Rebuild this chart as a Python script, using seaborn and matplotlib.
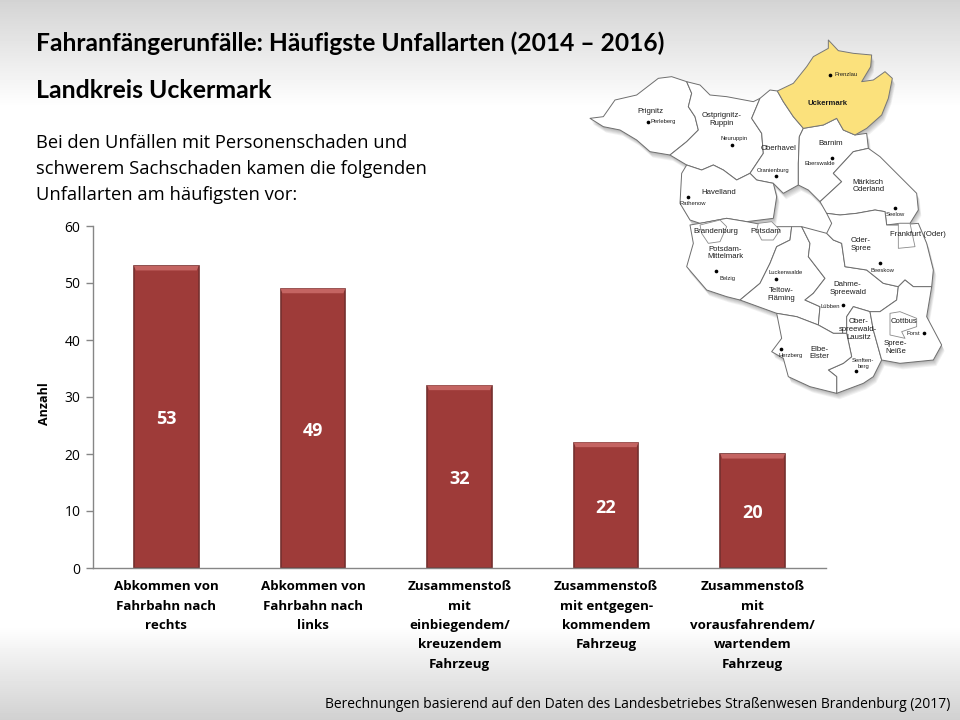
import numpy as np
import pandas as pd
import matplotlib
matplotlib.use('Agg')
import matplotlib.pyplot as plt
from matplotlib.patches import Polygon
import seaborn as sns

# chart data
categories = ['Abkommen von\nFahrbahn nach\nrechts', 'Abkommen von\nFahrbahn nach\nlinks',
              'Zusammenstoß\nmit\neinbiegendem/\nkreuzendem\nFahrzeug',
              'Zusammenstoß\nmit entgegen-\nkommendem\nFahrzeug',
              'Zusammenstoß\nmit\nvorausfahrendem/\nwartendem\nFahrzeug']
values = [53, 49, 32, 22, 20]
y_ticks = [0, 10, 20, 30, 40, 50, 60]

# map outlines, pixel coords of a 3x crop starting at (580,30)
uckermark = [(745,30),(775,62),(820,70),(875,75),(872,110),(845,155),(880,150),(915,125),(937,145),(925,205),(905,255),(860,295),(825,315),(790,300),(770,265),(730,285),(670,295),(640,260),(610,215),(592,183),(640,160),(680,110),(700,80),(745,55)]
regions = [
    [(30,265),(70,260),(105,210),(170,195),(235,145),(275,140),(320,155),(335,190),(325,230),(345,260),(355,300),(320,335),(270,375),(210,365),(170,330),(120,300),(70,290)],
    [(320,155),(360,165),(390,195),(440,200),(520,215),(540,205),(515,265),(545,310),(550,370),(510,430),(470,450),(430,420),(400,405),(365,420),(320,405),(270,375),(320,335),(355,300),(345,260),(325,230),(335,190)],
    [(540,205),(570,180),(592,183),(610,215),(640,260),(670,295),(658,320),(655,400),(655,465),(610,490),(580,460),(530,450),(510,430),(550,370),(545,310),(515,265)],
    [(658,320),(670,295),(730,285),(770,265),(790,300),(825,315),(860,310),(865,355),(820,365),(760,430),(785,455),(720,515),(685,480),(655,465),(655,400)],
    [(865,355),(900,380),(950,430),(1010,490),(1015,540),(990,580),(960,580),(920,585),(915,545),(885,540),(830,550),(780,555),(740,550),(720,515),(785,455),(760,430),(820,365)],
    [(320,405),(365,420),(400,405),(430,420),(470,450),(510,430),(530,450),(580,460),(590,500),(580,565),(500,575),(440,565),(360,580),(330,570),(300,520),(305,430)],
    [(330,585),(360,580),(440,565),(500,575),(580,590),(635,590),(630,630),(590,650),(570,700),(540,760),(480,810),(440,800),(380,780),(320,710),(340,640)],
    [(635,590),(665,590),(690,640),(685,680),(735,745),(700,790),(675,810),(720,830),(715,885),(650,860),(590,850),(480,810),(540,760),(570,700),(590,650),(630,630)],
    [(665,590),(740,610),(760,630),(785,640),(795,710),(860,720),(910,760),(955,770),(950,810),(900,845),(870,845),(820,830),(800,860),(800,910),(760,910),(715,885),(720,830),(675,810),(700,790),(735,745),(685,680),(690,640)],
    [(740,550),(780,555),(830,550),(885,540),(915,545),(920,585),(955,585),(1015,580),(1040,640),(1060,720),(1055,770),(1000,770),(975,750),(955,770),(910,760),(860,720),(795,710),(785,640),(760,630),(740,610),(755,580)],
    [(800,860),(820,830),(870,845),(880,900),(905,990),(880,1040),(850,1060),(770,1090),(770,1040),(745,1020),(790,1000),(815,980),(800,910)],
    [(590,850),(650,860),(715,885),(760,910),(800,910),(815,980),(790,1000),(745,1020),(770,1040),(770,1090),(690,1070),(625,1040),(610,985),(575,965),(605,925)],
    [(870,845),(900,845),(950,810),(955,770),(975,750),(1000,770),(1055,770),(1040,860),(1085,945),(1060,990),(960,1000),(905,990),(880,900)],
]
cities = [
    [(360,585),(420,570),(440,590),(420,635),(385,640),(365,610)],
    [(535,580),(575,575),(600,600),(580,630),(545,630),(530,600)],
    [(955,580),(990,580),(1005,650),(955,655)],
    [(930,850),(960,845),(1010,865),(1010,890),(965,905),(975,925),(930,915)],
]
labels = [('Prignitz',212,245,5.6),('Ostprignitz-\nRuppin',425,268,5.6),('Oberhavel',597,355,5.6),('Barnim',752,340,5.6),
          ('Märkisch\nOderland',865,468,5.6),('Havelland',416,487,5.6),('Brandenburg',407,605,5.6),('Potsdam',557,605,5.6),
          ('Potsdam-\nMittelmark',435,669,5.6),('Teltow-\nFläming',603,793,5.6),('Dahme-\nSpreewald',803,775,5.6),
          ('Oder-\nSpree',843,644,5.6),('Frankfurt (Oder)',1015,612,5.6),('Ober-\nspreewald-\nLausitz',835,898,5.6),
          ('Cottbus',972,875,5.6),('Spree-\nNeiße',946,953,5.6),('Elbe-\nElster',718,969,5.6),('Uckermark',743,220,5.6),
          ('Prenzlau',797,134,4.2),('Perleberg',249,276,4.2),('Neuruppin',461,326,4.2),('Eberswalde',720,401,4.2),
          ('Oranienburg',580,421,4.2),('Rathenow',337,520,4.2),('Seelow',945,553,4.2),('Beeskow',907,723,4.2),
          ('Belzig',442,746,4.2),('Luckenwalde',618,729,4.2),('Lübben',752,829,4.2),('Forst',1000,910,4.2),
          ('Herzberg',631,976,4.2),('Senften-\nberg',850,1000,4.2)]
dots = [(749,134),(203,275),(456,346),(757,383),(589,439),(325,501),(945,534),(899,700),(409,722),(587,746),(790,825),(1032,908),(603,956),(828,1024)]


def px(points):
    return np.array([(580 + x / 3, 30 + y / 3) for x, y in points])


sns.set_theme(style='white', rc={'font.family': ['Open Sans', 'DejaVu Sans']})
fig = plt.figure(figsize=(9.6, 7.2), dpi=100)

# slide background
bg = fig.add_axes([0, 0, 1, 1], zorder=0)
grey = np.ones(720)
grey[:108] = np.linspace(0.83, 1, 108)
grey[625:] = np.linspace(1, 0.82, 95)
bg.imshow(grey[:, None], cmap='gray', vmin=0, vmax=1, aspect='auto')
bg.axis('off')

# bars
ax = fig.add_axes([93 / 960, 1 - 568 / 720, 733 / 960, 342 / 720], zorder=1)
ax.patch.set_alpha(0)
df = pd.DataFrame({'art': categories, 'anzahl': values})
sns.barplot(data=df, x='art', y='anzahl', color='#9e3b39', saturation=1, width=0.44, ax=ax,
            edgecolor='#74302f', linewidth=1.2)
for bar, v in zip(list(ax.patches), values):
    x0, w = bar.get_x(), bar.get_width()
    ax.add_patch(Polygon([(x0, v), (x0 + w, v), (x0 + w - 0.012, v - 0.8), (x0 + 0.012, v - 0.8)],
                         color='#c46462', lw=0, zorder=3))
    ax.annotate(str(v), (x0 + w / 2, v / 2), xytext=(0, -2.5), textcoords='offset pixels', ha='center', va='center',
                color='white', fontsize=13, fontweight='bold')
ax.set_ylim(0, 60)
ax.set_yticks(y_ticks)
ax.set_xlim(-0.5, 4.5)
ax.set_xlabel('')
ax.set_ylabel('Anzahl', fontsize=9, fontweight='bold', color='black')
ax.yaxis.set_label_coords(-0.057, 0.48)
for axis in ['top', 'right']:
    ax.spines[axis].set_visible(False)
for axis in ['bottom', 'left']:
    ax.spines[axis].set_color('#868686')
    ax.spines[axis].set_linewidth(1)
ax.tick_params(axis='y', length=5, width=1, color='#868686', labelsize=10, labelcolor='black', pad=4, left=True)
ax.tick_params(axis='x', length=0, pad=9)
ax.set_xticks(range(len(categories)))
ax.set_xticklabels(categories, fontsize=9.6, fontweight='bold', color='black', linespacing=1.63)

# map and slide text, in pixel coordinates
ov = fig.add_axes([0, 0, 1, 1], zorder=2)
ov.set_xlim(0, 960)
ov.set_ylim(720, 0)
ov.axis('off')
for shift in [1, 2, 3, 4, 5, 6]:
    for poly in regions + [uckermark]:
        ov.add_patch(Polygon(px(poly) + [shift * 0.5, shift], color='black', alpha=0.05, lw=0))
for poly in regions:
    ov.add_patch(Polygon(px(poly), facecolor='white', edgecolor='#6e6e6e', lw=0.7, joinstyle='round'))
for poly in cities:
    ov.add_patch(Polygon(px(poly), facecolor='white', edgecolor='#8a8a8a', lw=0.6, joinstyle='round'))
ov.add_patch(Polygon(px(uckermark), facecolor='#fbe17c', edgecolor='#777777', lw=0.7, joinstyle='round'))
dots_px = px(dots)
ov.scatter(dots_px[:, 0], dots_px[:, 1], s=7, color='black', lw=0)
for txt, x, y, size in labels:
    lx, ly = px([(x, y)])[0]
    ov.text(lx, ly, txt, ha='center', va='center', fontsize=size, color='#1c1c1c',
            family=['Liberation Sans', 'DejaVu Sans'],
            fontweight='bold' if txt == 'Uckermark' else 'normal', linespacing=1.15)

ov.text(36, 43, 'Fahranfängerunfälle: Häufigste Unfallarten (2014 – 2016)', fontsize=17.7, fontweight='bold',
        family=['Lato', 'DejaVu Sans'], color='black', va='center')
ov.text(36, 91, 'Landkreis Uckermark', fontsize=17.9, fontweight='bold',
        family=['Lato', 'DejaVu Sans'], color='black', va='center')
ov.text(36, 143, 'Bei den Unfällen mit Personenschaden und', fontsize=13.25, color='black', va='center')
ov.text(36, 169, 'schwerem Sachschaden kamen die folgenden', fontsize=13.25, color='black', va='center')
ov.text(36, 195, 'Unfallarten am häufigsten vor:', fontsize=13.25, color='black', va='center')
ov.text(950, 705, 'Berechnungen basierend auf den Daten des Landesbetriebes Straßenwesen Brandenburg (2017)',
        fontsize=9.96, color='black', ha='right', va='center')

fig.savefig('out.png', dpi=100)
